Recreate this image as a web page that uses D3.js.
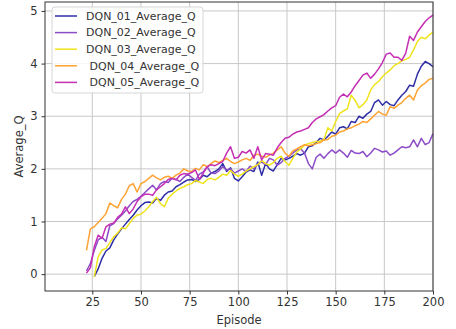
<!DOCTYPE html>
<html><head><meta charset="utf-8">
<script src="https://cdn.jsdelivr.net/npm/d3@7"></script>
<style>
html,body{margin:0;padding:0;background:#fff;}
svg{display:block;font-family:"DejaVu Sans",sans-serif;}
</style></head>
<body><svg id="chart" width="456" height="329"></svg>
<script>
const episodes = [22,24,26,28,30,32,34,36,38,40,42,44,46,48,50,52,54,56,58,60,
62,64,66,68,70,72,74,76,78,80,82,84,86,88,90,92,94,96,98,100,
102,104,106,108,110,112,114,116,118,120,122,124,126,128,130,132,134,136,138,140,
142,144,146,148,150,152,154,156,158,160,162,164,166,168,170,172,174,176,178,180,
182,184,186,188,190,192,194,196,198,200];

const dqn01 = [null,null,-0.05,0.1,0.3,0.44,0.5,0.65,0.76,0.86,
0.95,1.04,1.12,1.22,1.3,1.36,1.37,1.35,1.44,1.4,
1.5,1.56,1.58,1.66,1.7,1.75,1.79,1.8,1.76,1.8,
1.88,1.85,1.92,1.95,2.0,2.1,1.95,2.02,1.82,1.77,
1.85,1.94,1.98,1.95,2.13,1.88,2.1,2.0,1.96,2.08,
2.2,2.17,2.2,2.24,2.29,2.26,2.3,2.42,2.44,2.5,
2.58,2.55,2.62,2.7,2.66,2.78,2.8,2.76,2.9,2.88,
3.0,2.96,3.04,3.09,3.26,3.31,3.21,3.28,3.22,3.2,
3.31,3.4,3.47,3.59,3.57,3.8,3.95,4.04,4.0,3.94];

const dqn02 = [0.06,0.2,0.45,0.65,0.7,0.62,0.92,0.96,1.05,1.12,
1.2,1.3,1.38,1.42,1.48,1.55,1.62,1.69,1.6,1.72,
1.76,1.74,1.82,1.8,1.76,1.84,1.9,1.84,1.78,1.9,
1.94,2.04,1.92,1.91,1.96,2.04,1.98,2.0,1.92,1.96,
2.0,1.95,2.05,2.0,2.1,2.13,2.08,2.2,2.17,2.07,
2.12,2.2,2.24,2.3,2.36,2.38,2.3,2.1,2.0,2.22,
2.28,2.2,2.29,2.36,2.3,2.36,2.3,2.22,2.35,2.3,
2.29,2.33,2.23,2.3,2.39,2.36,2.32,2.34,2.26,2.3,
2.36,2.42,2.4,2.42,2.55,2.42,2.58,2.46,2.5,2.67];

const dqn03 = [null,null,-0.05,0.33,0.46,0.49,0.6,0.71,0.78,0.88,
0.86,0.96,1.06,1.12,1.14,1.2,1.28,1.38,1.46,1.34,
1.28,1.44,1.52,1.58,1.63,1.66,1.7,1.72,1.78,1.75,
1.72,1.8,1.82,1.79,1.84,1.9,1.88,1.97,1.9,1.86,
1.9,1.96,2.0,2.04,2.08,2.16,2.1,2.07,2.12,2.2,
2.24,2.14,2.07,2.2,2.32,2.38,2.45,2.48,2.5,2.52,
2.52,2.56,2.78,2.72,2.9,3.05,3.1,3.14,3.4,3.3,
3.16,3.22,3.31,3.5,3.6,3.66,3.75,3.82,3.88,3.96,
4.0,4.05,4.08,4.12,4.26,4.42,4.5,4.47,4.54,4.6];

const dqn04 = [0.45,0.86,0.9,0.98,1.06,1.15,1.35,1.3,1.26,1.42,
1.52,1.68,1.72,1.56,1.72,1.76,1.82,1.88,1.83,1.79,
1.84,1.86,1.82,1.88,1.92,2.0,1.96,1.95,2.01,1.98,
2.08,2.04,2.1,2.15,2.12,2.16,2.2,2.14,2.1,2.13,
2.17,2.2,2.16,2.26,2.28,2.24,2.22,2.26,2.3,2.36,
2.42,2.3,2.24,2.34,2.38,2.42,2.46,2.44,2.46,2.48,
2.5,2.55,2.56,2.62,2.64,2.7,2.72,2.76,2.78,2.82,
2.85,2.9,2.88,2.95,3.02,3.09,3.04,3.02,3.18,3.15,
3.21,3.26,3.34,3.4,3.31,3.5,3.58,3.63,3.7,3.72];

const dqn05 = [0.02,0.12,0.52,0.74,0.68,0.9,0.95,0.97,1.08,1.14,
1.28,1.15,1.24,1.38,1.47,1.52,1.52,1.5,1.6,1.66,
1.72,1.8,1.82,1.79,1.88,1.91,1.9,1.93,1.98,1.8,
1.92,2.04,2.08,2.06,2.1,2.14,2.3,2.42,2.2,2.22,
2.33,2.3,2.36,2.2,2.42,2.17,2.29,2.28,2.26,2.4,
2.5,2.58,2.6,2.66,2.7,2.72,2.75,2.78,2.88,2.95,
2.99,3.03,3.1,3.16,3.2,3.36,3.42,3.37,3.46,3.58,
3.68,3.78,3.82,3.72,3.8,3.9,4.02,4.18,4.2,4.12,
4.12,4.06,4.2,4.52,4.44,4.6,4.7,4.8,4.87,4.92];

const seriesNames = ["DQN_01_Average_Q","DQN_02_Average_Q","DQN_03_Average_Q"," DQN_04_Average_Q"," DQN_05_Average_Q"];
const seriesColors = ["#2e2ea6","#8c4cc8","#efe31d","#ffa333","#c42fb4"];
const seriesValues = [dqn01,dqn02,dqn03,dqn04,dqn05];
const xTicks = [25,50,75,100,125,150,175,200];
const yTicks = [0,1,2,3,4,5];

const svg = d3.select("#chart");
const L = 45, R = 433, T = 2, B = 291;
const x = d3.scaleLinear().domain([0.7, 200]).range([L, R]);
const y = d3.scaleLinear().domain([-0.32, 5.17]).range([B, T]);

// grid
const grid = svg.append("g");
grid.selectAll("line.gx").data(xTicks).enter().append("line")
  .attr("x1", d => x(d)).attr("x2", d => x(d)).attr("y1", T).attr("y2", B)
  .attr("stroke", "#c8c8c8").attr("stroke-width", 1);
grid.selectAll("line.gy").data(yTicks).enter().append("line")
  .attr("x1", L).attr("x2", R).attr("y1", d => y(d)).attr("y2", d => y(d))
  .attr("stroke", "#c8c8c8").attr("stroke-width", 1);

// lines
const line = d3.line().defined(d => d[1] != null)
  .x(d => x(d[0])).y(d => y(d[1]));
seriesValues.forEach((vals, i) => {
  svg.append("path")
    .datum(episodes.map((e, j) => [e, vals[j]]))
    .attr("fill", "none").attr("stroke", seriesColors[i])
    .attr("stroke-width", 1.5).attr("stroke-linejoin", "round")
    .attr("d", line);
});

// frame
svg.append("rect").attr("x", L).attr("y", T).attr("width", R - L).attr("height", B - T)
  .attr("fill", "none").attr("stroke", "#333").attr("stroke-width", 1);

// axes
const xAxis = svg.append("g").attr("transform", `translate(0,${B})`)
  .call(d3.axisBottom(x).tickValues(xTicks).tickFormat(d3.format("d")).tickSize(3.5).tickSizeOuter(0).tickPadding(3));
const yAxis = svg.append("g").attr("transform", `translate(${L},0)`)
  .call(d3.axisLeft(y).tickValues(yTicks).tickFormat(d3.format("d")).tickSize(3.5).tickSizeOuter(0).tickPadding(4));
[xAxis, yAxis].forEach(a => {
  a.select(".domain").remove();
  a.selectAll("line").attr("stroke", "#333");
  a.selectAll("text").attr("fill", "#333").style("font-size", "11.5px").style("font-family", "DejaVu Sans");
});

svg.append("text").attr("x", (L + R) / 2).attr("y", 324).attr("text-anchor", "middle")
  .attr("fill", "#333").style("font-size", "11.5px").text("Episode");
svg.append("text").attr("transform", `translate(19,${(T + B) / 2}) rotate(-90)`)
  .attr("text-anchor", "middle").attr("dy", "0.35em")
  .attr("fill", "#333").style("font-size", "11.5px").text("Average_Q");

// legend
const lg = svg.append("g");
lg.append("rect").attr("x", 52).attr("y", 7).attr("width", 151).attr("height", 86)
  .attr("rx", 3).attr("fill", "#fff").attr("fill-opacity", 0.85)
  .attr("stroke", "#d6d6d6").attr("stroke-width", 1);
seriesNames.forEach((n, i) => {
  const cy = 16 + i * 16.6;
  lg.append("line").attr("x1", 55).attr("x2", 77).attr("y1", cy).attr("y2", cy)
    .attr("stroke", seriesColors[i]).attr("stroke-width", 1.5);
  lg.append("text").attr("x", 86).attr("y", cy).attr("dy", "0.35em")
    .attr("fill", "#333").style("font-size", "11px").style("white-space", "pre")
    .attr("xml:space", "preserve").text(n);
});
</script>
</body></html>
